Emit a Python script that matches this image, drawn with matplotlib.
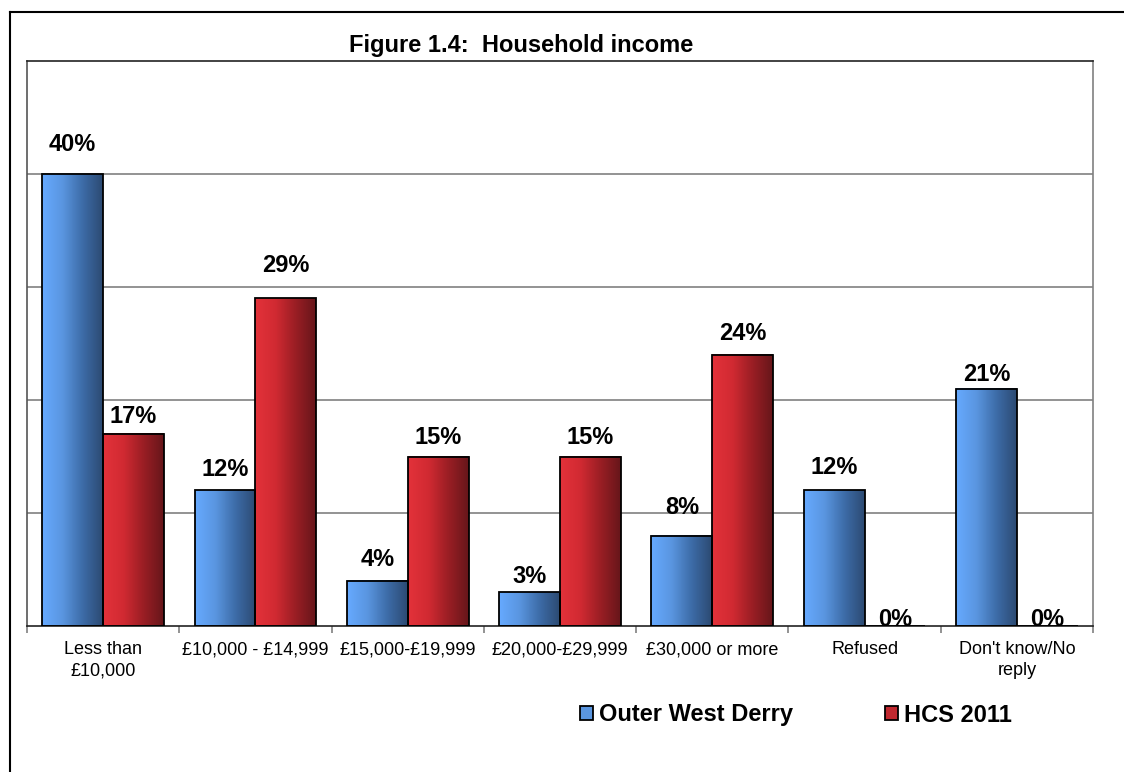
import numpy as np
import matplotlib
matplotlib.use("Agg")
import matplotlib.pyplot as plt
from matplotlib.colors import LinearSegmentedColormap
from matplotlib.patches import Patch
from matplotlib.lines import Line2D

plt.rcParams['font.family'] = ['Liberation Sans', 'DejaVu Sans']

categories = ["Less than\n£10,000", "£10,000 - £14,999", "£15,000-£19,999",
              "£20,000-£29,999", "£30,000 or more", "Refused", "Don't know/No\nreply"]
outer_west_derry = [40, 12, 4, 3, 8, 12, 21]
hcs_2011 = [17, 29, 15, 15, 24, 0, 0]
series_names = ["Outer West Derry", "HCS 2011"]

# gap in px between each value label and its bar top (the labels sit unevenly in the original)
gap_blue = [23, 14, 15, 9, 22, 16, 8]
gap_red = [11, 26, 13, 12, 15, 0, 0]

W, H = 1124, 772
blue_cmap = LinearSegmentedColormap.from_list("b", ["#66aaff", "#5a96e0", "#3d6ca8", "#2c4a72"])
red_cmap = LinearSegmentedColormap.from_list("r", ["#e3323a", "#d12a32", "#9a1e24", "#66161a"])


def gradient_bars(ax, xs, vals, width, cmap):
    grad = np.linspace(0, 1, 128).reshape(1, -1)
    for x, v in zip(xs, vals):
        if v <= 0:
            continue
        ax.imshow(grad, cmap=cmap, aspect='auto', extent=(x - width / 2, x + width / 2, 0, v),
                  zorder=2, interpolation='bilinear')
    ax.bar(xs, vals, width=width, facecolor='none', edgecolor='black', linewidth=1.3, zorder=3)


def main():
    fig = plt.figure(figsize=(W / 100, H / 100), dpi=100)
    ax = fig.add_axes([27 / W, 1 - 626 / H, 1066 / W, 565 / H])

    x = np.arange(len(categories))
    bw = 0.4
    xb = x - bw / 2
    xr = x + bw / 2
    gradient_bars(ax, xb, outer_west_derry, bw, blue_cmap)
    gradient_bars(ax, xr, hcs_2011, bw, red_cmap)

    for xs, vals, gaps in ((xb, outer_west_derry, gap_blue), (xr, hcs_2011, gap_red)):
        for xx, v, g in zip(xs, vals, gaps):
            ax.annotate(f"{v}%", (xx, v), xytext=(0, g * 0.72), textcoords='offset points',
                        ha='center', va='baseline', fontsize=17, fontweight='bold', zorder=4)

    ax.set_xlim(-0.5, len(categories) - 0.5)
    ax.set_ylim(0, 50)
    ax.set_yticks([10, 20, 30, 40])
    ax.yaxis.grid(True, color='#808080', linewidth=1.2)
    ax.set_axisbelow(True)
    ax.tick_params(axis='y', length=0, labelleft=False)

    ax.set_xticks(x)
    ax.set_xticklabels(categories, fontsize=13, linespacing=1.3)
    ax.tick_params(axis='x', which='major', length=0, pad=11)
    ax.set_xticks(np.arange(-0.5, len(categories)), minor=True)
    ax.tick_params(axis='x', which='minor', length=5, color='#808080', width=1.2)

    ax.spines['top'].set_color('#222222')
    ax.spines['bottom'].set_color('#222222')
    ax.spines['left'].set_color('#555555')
    ax.spines['right'].set_color('#808080')
    for s in ax.spines.values():
        s.set_linewidth(1.2)

    fig.text(521 / W, 1 - 52 / H, "Figure 1.4:  Household income", ha='center', va='baseline',
             fontsize=17, fontweight='bold')

    handles = [Patch(facecolor='#5a96e0', edgecolor='black', linewidth=1.3),
               Patch(facecolor='#c0282f', edgecolor='black', linewidth=1.3)]
    fig.legend(handles, series_names, loc='center', bbox_to_anchor=(796 / W, 1 - 715 / H), ncol=2,
               frameon=False, prop={'size': 17, 'weight': 'bold'}, handlelength=0.55,
               handleheight=0.55, handletextpad=0.25, columnspacing=3.9)

    # outer chart frame
    fig.add_artist(Line2D([10 / W, 10 / W], [0, 1 - 12 / H], color='black', linewidth=1.5))
    fig.add_artist(Line2D([10 / W, 1], [1 - 12 / H, 1 - 12 / H], color='black', linewidth=1.5))

    fig.savefig("out.png", dpi=100)


if __name__ == "__main__":
    main()
